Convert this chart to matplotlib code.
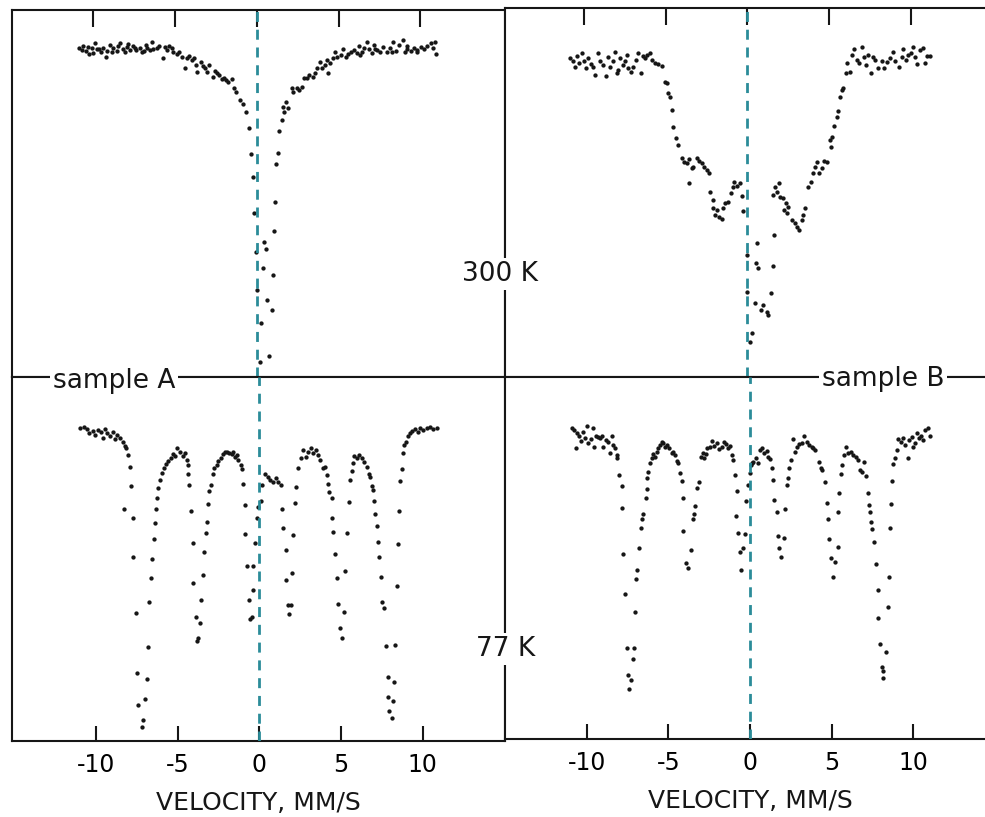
import matplotlib
matplotlib.use("Agg")
import matplotlib.pyplot as plt

plt.rcParams['font.family'] = 'DejaVu Sans'
plt.rcParams['axes.unicode_minus'] = False

# Mossbauer spectra: velocity (mm/s) and relative transmission (%)
# sample A, 300 K
a300_v = [
    -10.87, -10.72, -10.62, -10.46, -10.32, -10.26, -10.11, -10.01, -9.91, -9.80,
    -9.64, -9.56, -9.40, -9.24, -9.16, -8.99, -8.89, -8.79, -8.58, -8.48,
    -8.38, -8.21, -8.07, -7.97, -7.87, -7.77, -7.60, -7.46, -7.40, -7.16,
    -7.05, -6.91, -6.79, -6.71, -6.54, -6.44, -6.34, -6.10, -5.98, -5.77,
    -5.63, -5.49, -5.36, -5.22, -5.12, -4.91, -4.75, -4.61, -4.40, -4.30,
    -4.14, -3.99, -3.85, -3.73, -3.65, -3.44, -3.28, -3.18, -3.04, -2.92,
    -2.71, -2.57, -2.46, -2.30, -2.16, -2.02, -1.90, -1.76, -1.55, -1.41,
    -1.28, -1.04, -0.87, -0.67, -0.47, -0.39, -0.23, -0.18, -0.08, -0.02,
    0.24, 0.18, 0.75, 0.90, 0.59, 1.00, 0.39, 0.53, 0.43, 1.04,
    1.10, 1.16, 1.30, 1.36, 1.51, 1.65, 1.61, 1.77, 1.92, 2.12,
    2.22, 2.43, 2.59, 2.73, 2.87, 3.04, 3.20, 3.41, 3.55, 3.69,
    3.85, 3.96, 4.16, 4.26, 4.36, 4.46, 4.63, 4.77, 4.91, 5.12,
    5.28, 5.44, 5.58, 5.73, 5.93, 6.10, 6.26, 6.30, 6.40, 6.54,
    6.71, 6.87, 7.02, 7.16, 7.22, 7.32, 7.52, 7.73, 7.93, 8.13,
    8.24, 8.34, 8.50, 8.70, 8.91, 9.05, 9.15, 9.19, 9.40, 9.60,
    9.77, 9.80, 10.01, 10.21, 10.42, 10.62, 10.75, 10.89, 10.95,
]
a300_t = [
    99.9, 99.7, 100.1, 99.6, 100.0, 99.3, 99.9, 99.4, 100.4, 99.8,
    99.8, 99.5, 99.9, 99.0, 99.6, 100.2, 99.5, 99.9, 99.6, 100.1,
    100.4, 99.8, 99.5, 100.0, 100.3, 99.7, 100.1, 99.9, 99.7, 99.9,
    99.5, 99.6, 100.2, 99.9, 99.7, 100.5, 99.8, 99.9, 100.1, 98.9,
    100.0, 99.7, 100.1, 99.9, 99.5, 99.3, 99.5, 99.0, 97.9, 98.9,
    99.1, 98.7, 98.9, 98.2, 97.5, 98.5, 98.1, 97.9, 97.5, 98.2,
    97.0, 97.6, 97.4, 97.2, 96.8, 96.9, 96.7, 96.5, 96.8, 95.9,
    95.5, 94.7, 94.3, 93.5, 91.9, 89.3, 87.0, 83.4, 79.5, 75.7,
    72.4, 68.5, 69.1, 73.7, 74.7, 77.2, 77.9, 79.8, 80.5, 81.6,
    84.5, 88.3, 89.4, 91.6, 92.7, 93.5, 94.0, 94.5, 93.9, 95.9,
    95.5, 95.9, 95.7, 96.0, 96.9, 96.9, 97.2, 97.0, 97.4, 97.9,
    98.5, 97.9, 98.2, 98.7, 97.4, 98.4, 98.9, 99.5, 99.0, 99.2,
    99.8, 99.0, 99.3, 99.5, 99.7, 99.4, 100.1, 99.2, 99.5, 99.9,
    100.5, 99.8, 99.4, 100.2, 99.8, 99.7, 99.5, 100.0, 99.5, 99.9,
    99.5, 100.5, 99.6, 100.2, 100.7, 99.5, 100.1, 99.8, 99.6, 99.9,
    99.5, 99.7, 100.0, 99.8, 100.1, 100.4, 99.9, 100.5, 99.3,
]

# sample B, 300 K
b300_v = [
    -10.86, -10.69, -10.55, -10.45, -10.29, -10.14, -10.00, -9.88, -9.74, -9.59,
    -9.47, -9.33, -9.13, -9.02, -8.82, -8.65, -8.51, -8.41, -8.24, -8.10,
    -8.00, -7.90, -7.80, -7.63, -7.49, -7.39, -7.29, -7.14, -6.98, -6.82,
    -6.68, -6.53, -6.41, -6.27, -6.13, -5.96, -5.86, -5.66, -5.46, -5.25,
    -5.05, -4.94, -4.84, -4.74, -4.64, -4.54, -4.37, -4.23, -4.02, -3.88,
    -3.72, -3.56, -3.56, -3.41, -3.32, -3.11, -2.95, -2.80, -2.66, -2.50,
    -2.34, -2.29, -2.13, -2.09, -1.99, -1.88, -1.72, -1.58, -1.48, -1.38,
    -1.17, -1.03, -0.91, -0.83, -0.66, -0.46, -0.35, -0.26, -0.05, 0.56,
    0.66, 0.52, 1.54, 1.62, -0.01, 1.42, 0.46, 0.97, 1.17, 1.27,
    0.81, 0.26, 0.15, 1.68, 1.95, 1.82, 1.58, 1.99, 2.15, 2.35,
    2.50, 2.23, 2.43, 2.70, 2.91, 3.01, 3.17, 3.32, 3.41, 3.52,
    3.72, 3.87, 3.99, 4.13, 4.27, 4.39, 4.54, 4.68, 4.88, 5.09,
    5.05, 5.15, 5.29, 5.46, 5.55, 5.66, 5.76, 5.86, 6.02, 6.10,
    6.27, 6.37, 6.51, 6.68, 6.84, 6.98, 7.13, 7.25, 7.39, 7.54,
    7.66, 7.80, 8.00, 8.21, 8.35, 8.51, 8.72, 8.92, 9.02, 9.29,
    9.43, 9.53, 9.69, 9.83, 9.98, 10.10, 10.24, 10.35, 10.55, 10.72,
    10.86, 11.00, 11.16,
]
b300_t = [
    100.2, 99.9, 99.3, 100.4, 99.7, 100.7, 99.9, 99.2, 100.2, 99.6,
    99.3, 98.5, 100.7, 99.9, 99.5, 98.4, 100.3, 99.3, 99.9, 100.8,
    98.7, 99.0, 100.2, 99.5, 99.9, 100.5, 99.2, 98.8, 99.3, 100.0,
    100.7, 98.7, 100.4, 100.2, 100.5, 100.7, 100.0, 99.7, 99.6, 99.4,
    97.8, 97.7, 96.7, 96.3, 95.0, 93.3, 92.2, 91.5, 90.2, 89.8,
    89.7, 90.1, 87.7, 89.2, 89.3, 90.2, 89.9, 89.7, 89.3, 89.0,
    88.7, 86.8, 86.0, 85.2, 84.5, 85.0, 84.3, 84.1, 85.2, 85.7,
    85.8, 86.7, 87.3, 87.8, 87.4, 87.7, 86.4, 84.9, 80.5, 81.7,
    79.2, 79.7, 79.4, 82.5, 76.8, 76.7, 75.7, 75.5, 74.8, 74.5,
    75.0, 72.7, 71.8, 87.3, 87.7, 86.8, 86.5, 86.3, 86.2, 85.7,
    85.3, 85.0, 84.7, 84.0, 83.7, 83.3, 83.0, 84.0, 84.5, 85.2,
    87.3, 87.8, 88.7, 89.3, 89.8, 88.7, 89.2, 89.9, 89.8, 91.3,
    92.0, 92.3, 93.4, 94.3, 94.9, 96.3, 97.0, 97.2, 98.7, 99.7,
    98.8, 100.5, 101.1, 100.0, 99.7, 101.3, 100.3, 99.5, 100.5, 98.7,
    100.3, 100.0, 99.2, 99.9, 99.2, 99.8, 100.2, 100.8, 99.9, 99.3,
    100.3, 101.1, 100.0, 100.5, 100.7, 101.3, 100.3, 99.6, 101.0, 101.2,
    99.7, 100.4, 100.4,
]

# sample A, 77 K
a77_v = [
    -11.01, -10.77, -10.56, -10.44, -10.23, -10.09, -9.89, -9.74, -9.58, -9.48,
    -9.34, -9.17, -9.01, -8.87, -8.72, -8.56, -8.39, -8.25, -8.19, -8.05,
    -7.94, -7.90, -8.29, -7.78, -7.74, -7.58, -7.50, -7.44, -7.23, -7.13,
    -7.01, -6.92, -6.86, -6.76, -6.66, -6.60, -6.47, -6.41, -6.35, -6.31,
    -6.21, -6.10, -6.00, -5.86, -5.74, -5.60, -5.45, -5.33, -5.18, -5.04,
    -4.88, -4.71, -4.57, -4.47, -4.40, -4.37, -4.31, -4.20, -4.10, -4.06,
    -3.90, -3.75, -3.82, -3.65, -3.59, -3.48, -3.40, -3.30, -3.24, -3.14,
    -3.08, -2.99, -2.87, -2.77, -2.63, -2.53, -2.38, -2.22, -2.12, -1.98,
    -1.85, -1.71, -1.61, -1.50, -1.40, -1.30, -1.15, -1.09, -1.03, -0.89,
    -0.89, -0.75, -0.38, -0.42, -0.63, -0.58, -0.48, -0.28, -0.17, -0.07,
    0.13, 0.09, 0.34, 0.50, 0.64, 0.85, 0.99, 1.15, 1.32, 1.40,
    1.46, 1.61, 1.61, 1.77, 1.93, 1.81, 1.98, 2.07, 2.18, 2.24,
    2.38, 2.55, 2.69, 2.83, 2.99, 3.16, 3.30, 3.45, 3.61, 3.71,
    3.92, 4.02, 4.12, 4.22, 4.26, 4.43, 4.47, 4.53, 4.63, 4.74,
    4.83, 4.94, 5.08, 5.20, 5.25, 5.39, 5.49, 5.55, 5.66, 5.72,
    5.82, 5.96, 6.10, 6.27, 6.43, 6.58, 6.72, 6.78, 6.88, 6.98,
    7.04, 7.09, 7.19, 7.25, 7.33, 7.45, 7.53, 7.66, 7.74, 7.86,
    7.90, 7.96, 8.11, 8.21, 8.27, 8.31, 8.42, 8.52, 8.58, 8.62,
    8.72, 8.79, 8.89, 8.97, 9.09, 9.23, 9.37, 9.54, 9.71, 9.85,
    10.05, 10.26, 10.46, 10.67, 10.87,
]
a77_t = [
    100.0, 100.1, 99.9, 99.5, 99.7, 99.3, 99.8, 99.6, 99.0, 99.9,
    99.5, 99.2, 99.6, 98.9, 99.3, 99.0, 98.6, 98.2, 98.0, 97.3,
    96.1, 94.2, 91.9, 91.0, 87.1, 81.5, 75.5, 72.3, 70.1, 70.8,
    72.9, 74.9, 78.1, 82.6, 85.0, 86.9, 88.9, 90.5, 91.9, 93.0,
    94.0, 94.8, 95.5, 96.0, 96.4, 96.7, 97.0, 97.4, 97.2, 98.0,
    97.6, 97.2, 97.5, 96.8, 96.3, 95.4, 94.3, 91.7, 88.5, 84.5,
    81.1, 79.0, 78.7, 80.5, 82.8, 85.3, 87.6, 89.5, 90.6, 92.4,
    93.7, 94.3, 95.4, 96.0, 96.3, 96.7, 97.0, 97.4, 97.6, 97.6,
    97.5, 97.4, 97.6, 97.1, 97.3, 96.8, 96.3, 95.9, 94.4, 92.3,
    89.4, 86.2, 86.2, 83.8, 82.8, 80.9, 81.1, 88.5, 91.0, 92.1,
    94.3, 92.7, 95.4, 95.1, 94.8, 94.6, 95.0, 94.6, 94.3, 91.9,
    90.0, 87.8, 84.8, 82.3, 82.3, 81.4, 85.5, 89.3, 92.5, 94.1,
    96.0, 97.0, 97.8, 97.1, 97.6, 98.0, 97.5, 97.8, 97.3, 96.8,
    96.0, 96.1, 95.3, 94.4, 93.6, 93.0, 91.0, 89.6, 87.4, 85.0,
    82.4, 80.0, 79.0, 81.6, 85.7, 89.5, 92.6, 94.8, 95.7, 96.5,
    97.2, 97.0, 97.3, 97.0, 96.6, 96.1, 95.4, 95.1, 94.2, 93.8,
    92.7, 91.4, 90.2, 88.6, 87.1, 85.1, 82.6, 82.0, 78.2, 75.1,
    73.1, 71.7, 71.0, 72.7, 74.6, 78.3, 84.2, 88.4, 91.7, 94.7,
    95.9, 97.5, 98.3, 98.6, 99.2, 99.5, 99.7, 99.9, 99.6, 100.0,
    99.8, 100.0, 100.1, 99.9, 100.0,
]

# sample B, 77 K
b77_v = [
    -10.94, -10.80, -10.63, -10.67, -10.47, -10.39, -10.23, -10.12, -10.02, -9.92,
    -9.77, -9.61, -9.57, -9.45, -9.31, -9.20, -9.10, -9.00, -8.83, -8.69,
    -8.59, -8.48, -8.42, -8.28, -8.18, -8.14, -8.02, -7.87, -7.85, -7.77,
    -7.67, -7.53, -7.47, -7.40, -7.32, -7.20, -7.12, -7.06, -6.99, -6.91,
    -6.79, -6.71, -6.63, -6.54, -6.38, -6.34, -6.30, -6.24, -6.13, -6.03,
    -5.93, -5.83, -5.72, -5.62, -5.52, -5.42, -5.32, -5.21, -5.07, -4.95,
    -4.80, -4.71, -4.60, -4.50, -4.40, -4.29, -4.19, -4.09, -4.13, -3.93,
    -3.79, -3.64, -3.52, -3.44, -3.37, -3.23, -3.11, -3.02, -2.90, -2.82,
    -2.70, -2.62, -2.45, -2.35, -2.21, -2.04, -1.88, -1.74, -1.60, -1.47,
    -1.33, -1.23, -1.12, -1.02, -0.92, -0.82, -0.86, -0.72, -0.61, -0.57,
    -0.41, -0.31, -0.25, -0.10, 0.00, 0.10, 0.06, 0.20, 0.35, 0.47,
    0.61, 0.75, 0.88, 1.02, 1.12, 1.23, 1.33, 1.43, 1.49, 1.64,
    1.70, 1.78, 1.90, 2.10, 2.15, 2.25, 2.35, 2.41, 2.52, 2.66,
    2.76, 2.86, 3.01, 3.17, 3.33, 3.48, 3.62, 3.79, 3.88, 3.99,
    4.23, 4.36, 4.44, 4.60, 4.71, 4.81, 4.85, 4.97, 5.11, 5.21,
    5.38, 5.42, 5.46, 5.58, 5.63, 5.79, 5.87, 6.03, 6.20, 6.34,
    6.48, 6.64, 6.75, 6.89, 7.01, 7.10, 7.26, 7.30, 7.36, 7.42,
    7.50, 7.63, 7.71, 7.83, 7.87, 7.98, 8.08, 8.18, 8.14, 8.36,
    8.45, 8.53, 8.59, 8.65, 8.73, 8.79, 8.90, 9.00, 9.10, 9.26,
    9.40, 9.51, 9.67, 9.75, 9.92, 10.02, 10.12, 10.23, 10.37, 10.49,
    10.63, 10.74, 10.90, 11.04,
]
b77_t = [
    100.4, 100.2, 99.9, 98.4, 99.6, 99.1, 100.0, 99.4, 100.6, 98.9,
    99.3, 100.4, 98.5, 99.6, 99.5, 99.4, 99.6, 98.5, 99.2, 99.0,
    97.9, 99.6, 98.7, 98.4, 97.7, 97.4, 95.7, 94.6, 92.4, 87.8,
    83.8, 78.4, 75.7, 74.3, 75.2, 77.3, 78.4, 82.0, 85.3, 86.2,
    88.4, 90.4, 91.3, 91.8, 93.4, 94.3, 95.4, 96.0, 96.9, 97.4,
    97.8, 97.5, 98.0, 98.4, 98.7, 99.0, 98.9, 98.5, 98.7, 98.4,
    97.9, 98.0, 97.7, 97.1, 96.9, 95.9, 95.1, 93.4, 90.1, 86.9,
    86.4, 88.2, 91.3, 91.8, 92.6, 94.4, 95.0, 97.5, 97.9, 97.4,
    97.8, 98.4, 98.5, 99.1, 98.6, 98.9, 98.3, 98.5, 99.0, 98.8,
    98.4, 98.6, 97.7, 97.2, 95.7, 94.1, 91.6, 89.9, 88.0, 86.2,
    88.4, 89.8, 93.1, 94.7, 95.9, 96.9, 96.7, 97.0, 97.4, 96.9,
    98.2, 98.4, 97.9, 98.1, 97.5, 97.3, 96.4, 95.2, 93.2, 92.0,
    89.6, 88.4, 87.5, 89.4, 92.3, 94.7, 95.4, 96.4, 97.2, 99.3,
    98.0, 98.5, 98.8, 98.9, 99.6, 99.0, 98.7, 98.5, 98.4, 98.2,
    97.0, 96.4, 96.2, 95.0, 92.9, 91.3, 89.3, 87.4, 85.5, 87.0,
    88.5, 92.0, 93.9, 95.8, 96.7, 97.7, 98.5, 97.9, 98.0, 97.7,
    97.5, 97.2, 96.2, 96.0, 97.0, 95.6, 93.9, 92.7, 92.0, 91.0,
    90.3, 89.0, 86.8, 84.2, 81.4, 78.8, 76.5, 76.1, 75.4, 78.0,
    82.5, 85.5, 90.4, 92.8, 95.1, 96.8, 97.4, 98.2, 99.3, 99.0,
    99.4, 98.7, 97.4, 99.2, 99.5, 98.5, 98.9, 99.9, 99.4, 99.6,
    99.2, 100.2, 100.4, 99.6,
]

vel_ticks = [-10, -5, 0, 5, 10]
vel_labels = ['-10', '-5', '0', '5', '10']

W, H = 985.0, 817.0
fig = plt.figure(figsize=(W / 100, H / 100), dpi=100)
INK = '#161616'
DASH = '#2b8c99'


def panel(box, xlim, ylim, v, t, top_row):
    # box is (left, top, right, bottom) in pixels from the top-left corner
    l, tp, r, b = box
    ax = fig.add_axes([l / W, 1 - b / H, (r - l) / W, (b - tp) / H])
    ax.plot(v, t, 'o', ms=3.1, mew=0, color=INK, zorder=2)
    ax.axvline(0, color=DASH, lw=2.0, ls=(0, (3.6, 2.8)), zorder=3)
    ax.set_xlim(*xlim)
    ax.set_ylim(*ylim)
    ax.set_yticks([])
    ax.set_xticks(vel_ticks)
    for s in ax.spines.values():
        s.set_linewidth(1.5)
        s.set_color(INK)
    if top_row:
        ax.xaxis.tick_top()
        ax.tick_params(axis='x', direction='in', length=12, width=1.5,
                       color=INK, labeltop=False, labelbottom=False)
    else:
        ax.set_xticklabels(vel_labels)
        ax.tick_params(axis='x', direction='in', length=11, width=1.5,
                       color=INK, labelsize=17, pad=9)
        ax.set_xlabel('VELOCITY, MM/S', fontsize=18, labelpad=10, color=INK)
    return ax


panel((12, 10, 505, 377), (-14.98, 15.17), (67.0, 103.7), a300_v, a300_t, True)
panel((505, 8, 995, 377), (-14.83, 15.14), (68.3, 105.2), b300_v, b300_t, True)
panel((12, 377, 505, 741), (-15.18, 15.06), (68.7, 105.1), a77_v, a77_t, False)
panel((505, 377, 995, 739), (-15.03, 15.03), (69.3, 105.5), b77_v, b77_t, False)

white = dict(facecolor='white', edgecolor='none', pad=2)
fig.text(500 / W, 1 - 274 / H, '300 K', fontsize=19, ha='center', va='center',
         color=INK, bbox=white)
fig.text(506 / W, 1 - 649 / H, '77 K', fontsize=19, ha='center', va='center',
         color=INK, bbox=white)
fig.text(53 / W, 1 - 388 / H, 'sample A', fontsize=19, ha='left', va='baseline',
         color=INK, bbox=white)
fig.text(822 / W, 1 - 386 / H, 'sample B', fontsize=19, ha='left', va='baseline',
         color=INK, bbox=white)

fig.savefig('out.png', dpi=100, facecolor='white')
